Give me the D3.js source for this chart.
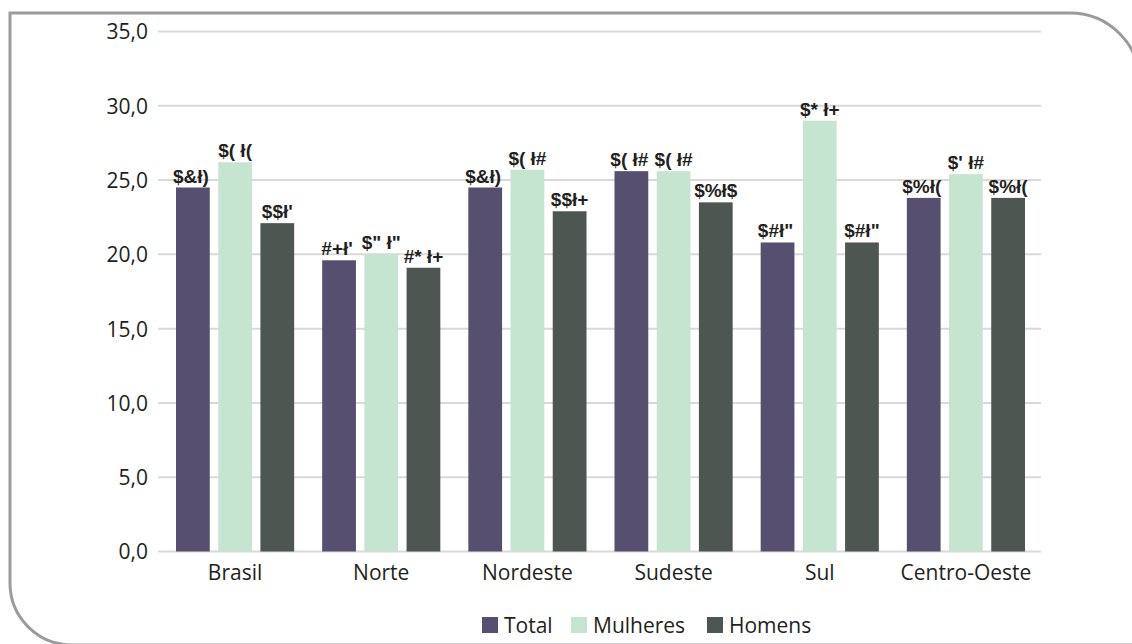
<!DOCTYPE html>
<html>
<head>
<meta charset="utf-8">
<script src="https://cdn.jsdelivr.net/npm/d3@7"></script>
<style>
  body { margin: 0; background: #fff; }
  svg { display: block; font-family: "Open Sans", "Noto Sans", sans-serif; }
</style>
</head>
<body>
<script>
(function () {
  'use strict';

  const width = 1132,
    height = 644;

  // data
  var categories = ['Brasil', 'Norte', 'Nordeste', 'Sudeste', 'Sul', 'Centro-Oeste'];
  var seriesNames = ['Total', 'Mulheres', 'Homens'];
  var total = [24.5, 19.6, 24.5, 25.6, 20.8, 23.8];
  var mulheres = [26.2, 20.0, 25.7, 25.6, 29.0, 25.4];
  var homens = [22.1, 19.1, 22.9, 23.5, 20.8, 23.8];
  // data labels as printed in the source (broken font encoding)
  var totalLabels = ['$&ł)', '#+ł\'', '$&ł)', '$( ł#', '$#ł"', '$%ł('];
  var mulheresLabels = ['$( ł(', '$" ł"', '$( ł#', '$( ł#', '$* ł+', '$\' ł#'];
  var homensLabels = ['$$ł\'', '#* ł+', '$$ł+', '$%ł$', '$#ł"', '$%ł('];
  var yTicks = [0, 5, 10, 15, 20, 25, 30, 35];

  var colors = ['#574f70', '#c6e5d0', '#4d5651'];
  var values = [total, mulheres, homens];
  var labels = [totalLabels, mulheresLabels, homensLabels];

  var svg = d3.select('body')
    .append('svg')
    .attr('width', width)
    .attr('height', height);

  // frame
  svg.append('path')
    .attr('d', 'M10,583 L10,13 L1070,13 A70,70 0 0 1 1140,83 L1140,645 L72,645 A62,62 0 0 1 10,583 Z')
    .style('fill', 'none')
    .style('stroke', '#9b9b9d')
    .style('stroke-width', 3);

  var x = d3.scaleBand()
    .domain(categories)
    .range([162, 1039])
    .paddingInner(0)
    .paddingOuter(0);

  var xs = d3.scaleBand()
    .domain(seriesNames)
    .range([14, x.bandwidth() - 14])
    .paddingInner(0.2);

  var y = d3.scaleLinear()
    .domain([0, 35])
    .range([551.5, 31.5]);

  // gridlines
  svg.append('g')
    .selectAll('line')
    .data(yTicks)
    .enter()
    .append('line')
    .attr('x1', 158)
    .attr('x2', 1041)
    .attr('y1', d => y(d))
    .attr('y2', d => y(d))
    .style('stroke', '#d9d9d9')
    .style('stroke-width', 2);

  // y axis labels
  var yAxis = d3.axisLeft(y)
    .tickValues(yTicks)
    .tickSize(0)
    .tickPadding(0)
    .tickFormat(d => d3.format('.1f')(d).replace('.', ','));

  var gy = svg.append('g')
    .attr('transform', 'translate(148,0)')
    .call(yAxis);
  gy.select('.domain').remove();
  gy.selectAll('text')
    .attr('font-size', '21px')
    .attr('font-family', '"Open Sans", sans-serif')
    .attr('dy', '0.35em')
    .style('fill', '#231f20');

  // x axis labels
  var xAxis = d3.axisBottom(x)
    .tickSize(0)
    .tickPadding(0);

  var gx = svg.append('g')
    .attr('transform', 'translate(0,564)')
    .call(xAxis);
  gx.select('.domain').remove();
  gx.selectAll('text')
    .attr('font-size', '21px')
    .attr('font-family', '"Open Sans", sans-serif')
    .attr('dy', '0.76em')
    .style('fill', '#231f20');

  // bars
  var groups = svg.selectAll('g.series')
    .data(seriesNames)
    .enter()
    .append('g')
    .attr('class', 'series');

  groups.each(function (name, si) {
    var g = d3.select(this);
    g.selectAll('rect')
      .data(values[si])
      .enter()
      .append('rect')
      .attr('x', (d, i) => x(categories[i]) + xs(name))
      .attr('width', xs.bandwidth())
      .attr('y', d => y(d))
      .attr('height', d => y(0) - y(d))
      .style('fill', colors[si]);

    g.selectAll('text')
      .data(values[si])
      .enter()
      .append('text')
      .attr('x', (d, i) => x(categories[i]) + xs(name) + xs.bandwidth() / 2 - (si === 0 ? 2 : 0))
      .attr('y', d => y(d) - 5)
      .attr('text-anchor', 'middle')
      .attr('font-family', '"Liberation Sans", Arial, sans-serif')
      .attr('font-weight', 'bold')
      .attr('font-size', '19px')
      .style('fill', '#231f20')
      .text((d, i) => labels[si][i]);
  });

  // legend
  var legendX = [482, 571, 707];
  var legend = svg.selectAll('g.legend')
    .data(seriesNames)
    .enter()
    .append('g')
    .attr('class', 'legend')
    .attr('transform', (d, i) => 'translate(' + legendX[i] + ',617)');

  legend.append('rect')
    .attr('width', 16)
    .attr('height', 16)
    .style('fill', (d, i) => colors[i]);

  legend.append('text')
    .attr('x', 22)
    .attr('y', 16)
    .attr('font-size', '21px')
    .style('fill', '#231f20')
    .text(d => d);

})();
</script>
</body>
</html>
